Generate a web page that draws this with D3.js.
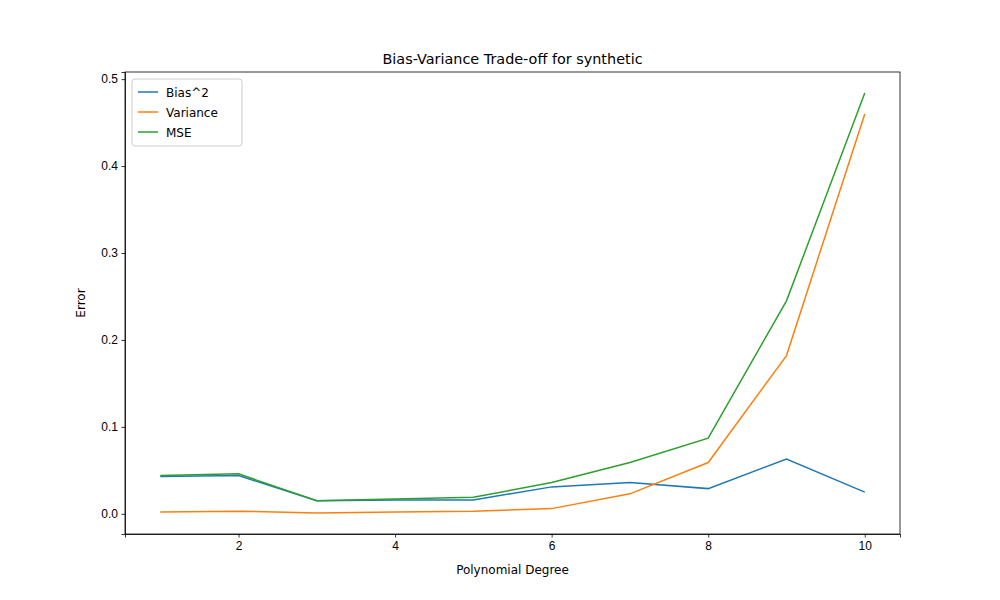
<!DOCTYPE html>
<html lang="en">
<head>
  <meta charset="UTF-8">
  <title>Bias-Variance Trade-off</title>
  <script src="https://d3js.org/d3.v7.min.js"></script>
  <style>
    body { background: #fff; margin: 0; }
    svg { font-family: "DejaVu Sans", sans-serif; }
    .axis text { font-size: 12px; fill: #000; }
    .axis path, .axis line { stroke: #000; stroke-width: 0.8; }
  </style>
</head>
<body>
  <svg width="1000" height="600"></svg>
  <script>
    const degrees = [1, 2, 3, 4, 5, 6, 7, 8, 9, 10];
    const bias2 = [0.043, 0.044, 0.015, 0.016, 0.016, 0.031, 0.036, 0.029, 0.063, 0.025];
    const variance = [0.002, 0.003, 0.001, 0.002, 0.003, 0.006, 0.023, 0.059, 0.182, 0.460];
    const mse = [0.044, 0.046, 0.015, 0.017, 0.019, 0.036, 0.059, 0.087, 0.245, 0.484];
    const xTicks = [2, 4, 6, 8, 10];
    const yTicks = [0, 0.1, 0.2, 0.3, 0.4, 0.5];

    const series = [
      { name: "Bias^2", values: bias2, color: "#1f77b4" },
      { name: "Variance", values: variance, color: "#ff7f0e" },
      { name: "MSE", values: mse, color: "#2ca02c" }
    ];

    const pLeft = 125, pRight = 900, pTop = 72, pBottom = 534;
    const svg = d3.select("svg");
    const x = d3.scaleLinear().domain([0.55, 10.45]).range([pLeft, pRight]);
    const y = d3.scaleLinear().domain([-0.0232, 0.5082]).range([pBottom, pTop]);

    svg.append("g").attr("class", "axis")
      .attr("transform", `translate(0,${pBottom})`)
      .call(d3.axisBottom(x).tickValues(xTicks).tickSize(3.5).tickPadding(3.5).tickFormat(d3.format("d")));
    svg.append("g").attr("class", "axis")
      .attr("transform", `translate(${pLeft},0)`)
      .call(d3.axisLeft(y).tickValues(yTicks).tickSize(3.5).tickPadding(3.5).tickFormat(d3.format(".1f")));

    svg.append("rect").attr("x", pLeft).attr("y", pTop)
      .attr("width", pRight - pLeft).attr("height", pBottom - pTop)
      .attr("fill", "none").attr("stroke", "#000").attr("stroke-width", 0.8);

    const line = d3.line().x((d, i) => x(degrees[i])).y(d => y(d));
    series.forEach(s => {
      svg.append("path").datum(s.values)
        .attr("d", line).attr("fill", "none")
        .attr("stroke", s.color).attr("stroke-width", 1.5);
    });

    svg.append("text").attr("x", (pLeft + pRight) / 2).attr("y", 64)
      .attr("text-anchor", "middle").attr("font-size", 14.4).text("Bias-Variance Trade-off for synthetic");
    svg.append("text").attr("x", (pLeft + pRight) / 2).attr("y", 574)
      .attr("text-anchor", "middle").attr("font-size", 12).text("Polynomial Degree");
    svg.append("text").attr("transform", `translate(85,${(pTop + pBottom) / 2}) rotate(-90)`)
      .attr("text-anchor", "middle").attr("font-size", 12).text("Error");

    const lg = svg.append("g").attr("transform", "translate(132,79)");
    lg.append("rect").attr("width", 110).attr("height", 67).attr("rx", 3)
      .attr("fill", "#fff").attr("fill-opacity", 0.8).attr("stroke", "#ccc");
    series.forEach((s, i) => {
      const yy = 13 + i * 20;
      lg.append("line").attr("x1", 6).attr("x2", 26).attr("y1", yy).attr("y2", yy)
        .attr("stroke", s.color).attr("stroke-width", 1.5);
      lg.append("text").attr("x", 34).attr("y", yy + 4.5).attr("font-size", 12).text(s.name);
    });
  </script>
</body>
</html>
